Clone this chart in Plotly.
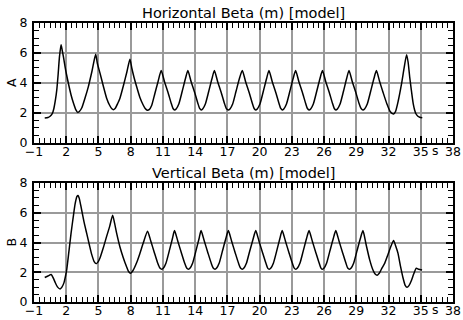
import plotly.graph_objects as go
from plotly.subplots import make_subplots

# Horizontal beta (m) vs s
s_h = [0.0, 0.3, 0.5, 0.7, 0.85, 1.0, 1.12, 1.25, 1.37, 1.52, 1.62, 1.74, 1.95, 2.2, 2.45, 2.67, 2.9, 3.07,
       3.22, 3.44, 3.75, 4.06, 4.4, 4.74, 4.9, 5.15, 5.45, 5.76, 6.05, 6.25, 6.38,
       6.55, 6.8, 7.0, 7.35, 7.65, 7.93, 8.1, 8.3, 8.55, 8.85, 9.15, 9.35, 9.55,
       9.72, 9.95, 10.25, 10.55, 10.84,
       11.14, 11.46, 11.77, 11.94, 12.08, 12.23, 12.48, 12.79, 13.1, 13.32,
       13.62, 13.94, 14.25, 14.42, 14.55, 14.7, 14.95, 15.26, 15.57, 15.79,
       16.09, 16.41, 16.72, 16.9, 17.09, 17.24, 17.49, 17.8, 18.12, 18.39,
       18.69, 19.01, 19.32, 19.49, 19.63, 19.78, 20.03, 20.34, 20.65, 20.87,
       21.17, 21.49, 21.8, 21.97, 22.1, 22.25, 22.5, 22.81, 23.12, 23.35,
       23.65, 23.97, 24.28, 24.45, 24.6, 24.75, 25.0, 25.31, 25.62, 25.85,
       26.15, 26.47, 26.78, 26.95, 27.09, 27.24, 27.49, 27.8, 28.1, 28.32,
       28.62, 28.94, 29.25, 29.45, 29.62, 29.77, 30.02, 30.33, 30.64, 30.87,
       31.17, 31.5, 31.85, 32.15, 32.47, 32.65, 32.9, 33.2, 33.45, 33.68,
       33.82, 33.97, 34.12, 34.3, 34.42, 34.55, 34.73, 34.9, 35.14]
beta_h = [1.67, 1.7, 1.78, 1.95, 2.3, 2.9, 3.54, 4.6, 5.74, 6.55, 6.2, 5.74, 4.85, 3.98, 3.2, 2.66, 2.2, 2.04,
          2.1, 2.33, 3.0, 3.76, 4.8, 5.91, 5.3, 4.64, 3.8, 2.99, 2.5, 2.28, 2.22,
          2.3, 2.65, 2.99, 3.9, 4.75, 5.58, 5.0, 4.4, 3.76, 3.05, 2.55, 2.3, 2.18,
          2.22, 2.5, 3.3, 4.1, 4.83,
          4.1, 3.4, 2.65, 2.3, 2.2, 2.27, 2.6, 3.43, 4.3, 4.83,
          4.1, 3.4, 2.65, 2.3, 2.2, 2.27, 2.6, 3.43, 4.3, 4.83,
          4.1, 3.4, 2.65, 2.3, 2.2, 2.27, 2.6, 3.43, 4.3, 4.83,
          4.1, 3.4, 2.65, 2.3, 2.2, 2.27, 2.6, 3.43, 4.3, 4.83,
          4.1, 3.4, 2.65, 2.3, 2.2, 2.27, 2.6, 3.43, 4.3, 4.83,
          4.1, 3.4, 2.65, 2.3, 2.2, 2.27, 2.6, 3.43, 4.3, 4.83,
          4.1, 3.4, 2.65, 2.3, 2.2, 2.27, 2.6, 3.43, 4.3, 4.83,
          4.1, 3.4, 2.65, 2.3, 2.2, 2.27, 2.6, 3.43, 4.3, 4.83,
          4.1, 3.35, 2.6, 2.1, 1.93, 2.1, 2.8, 3.9, 5.0, 5.89,
          5.4, 4.4, 3.54, 2.6, 2.22, 1.95, 1.78, 1.72, 1.68]

# Vertical beta (m) vs s
s_v = [0.0, 0.3, 0.6, 0.8, 0.97, 1.2, 1.43, 1.6, 1.8, 1.95, 2.05, 2.25, 2.45, 2.65, 2.83, 3.0, 3.1,
       3.2, 3.38, 3.65, 3.9, 4.15, 4.37, 4.6, 4.78, 4.95, 5.15, 5.45, 5.76, 6.05, 6.32,
       6.5, 6.69, 7.0, 7.31, 7.6, 7.8, 7.99, 8.2, 8.55, 8.85, 9.17, 9.57,
       9.87, 10.19, 10.52, 10.72, 10.9, 11.05, 11.28, 11.58, 11.88, 12.08,
       12.38, 12.7, 13.03, 13.21, 13.38, 13.53, 13.76, 14.06, 14.36, 14.55,
       14.85, 15.17, 15.5, 15.68, 15.85, 16.0, 16.23, 16.53, 16.85, 17.09,
       17.39, 17.71, 18.04, 18.22, 18.39, 18.54, 18.77, 19.07, 19.4, 19.64,
       19.94, 20.26, 20.59, 20.75, 20.9, 21.05, 21.28, 21.58, 21.88, 22.1,
       22.4, 22.72, 23.05, 23.22, 23.37, 23.52, 23.75, 24.05, 24.36, 24.6,
       24.9, 25.22, 25.55, 25.71, 25.85, 26.0, 26.23, 26.53, 26.85, 27.09,
       27.39, 27.71, 28.04, 28.2, 28.37, 28.52, 28.75, 29.05, 29.37, 29.62,
       29.9, 30.24, 30.55, 30.75, 30.94, 31.15, 31.4, 31.64, 31.95, 32.25, 32.47,
       32.65, 32.87, 33.1, 33.34, 33.55, 33.72, 33.9, 34.12, 34.35, 34.58, 34.8, 35.12]
beta_v = [1.65, 1.75, 1.85, 1.6, 1.32, 1.0, 0.88, 1.0, 1.32, 1.8, 2.2, 3.4, 4.63, 5.7, 6.61, 7.1, 7.16,
          7.0, 6.39, 5.4, 4.63, 3.85, 3.2, 2.72, 2.58, 2.68, 2.98, 3.65, 4.41, 5.1, 5.84,
          5.3, 4.63, 3.7, 2.98, 2.4, 2.05, 1.94, 2.1, 2.64, 3.25, 3.97, 4.76,
          4.1, 3.35, 2.6, 2.28, 2.2, 2.28, 2.6, 3.4, 4.25, 4.8,
          4.1, 3.35, 2.6, 2.28, 2.2, 2.28, 2.6, 3.4, 4.25, 4.8,
          4.1, 3.35, 2.6, 2.28, 2.2, 2.28, 2.6, 3.4, 4.25, 4.8,
          4.1, 3.35, 2.6, 2.28, 2.2, 2.28, 2.6, 3.4, 4.25, 4.8,
          4.1, 3.35, 2.6, 2.28, 2.2, 2.28, 2.6, 3.4, 4.25, 4.8,
          4.1, 3.35, 2.6, 2.28, 2.2, 2.28, 2.6, 3.4, 4.25, 4.8,
          4.1, 3.35, 2.6, 2.28, 2.2, 2.28, 2.6, 3.4, 4.25, 4.8,
          4.1, 3.35, 2.6, 2.28, 2.2, 2.28, 2.6, 3.4, 4.25, 4.8,
          3.9, 2.85, 2.15, 1.88, 1.8, 1.95, 2.3, 2.6, 3.2, 3.8, 4.14,
          3.8, 3.3, 2.45, 1.65, 1.12, 0.99, 1.1, 1.43, 1.9, 2.27, 2.2, 2.15]

titles = ["Horizontal Beta (m) [model]", "Vertical Beta (m) [model]"]
ylabels = ["A", "B"]
x_range = [-1, 38]
y_range = [0, 8]

FONT = "DejaVu Sans"
TICKFONT = dict(family=FONT, size=12.5, color="black")
TITLEFONT = dict(family=FONT, size=14.5, color="black")

fig = make_subplots(rows=2, cols=1, vertical_spacing=0.146)
fig.add_trace(go.Scatter(x=s_h, y=beta_h, mode="lines",
                         line=dict(color="black", width=1.5, shape="spline", smoothing=0.6)), row=1, col=1)
fig.add_trace(go.Scatter(x=s_v, y=beta_v, mode="lines",
                         line=dict(color="black", width=1.5, shape="spline", smoothing=0.6)), row=2, col=1)

minor = dict(dtick=0.5, ticklen=5, tickwidth=1.2, tickcolor="black", ticks="inside", showgrid=False)
axis_common = dict(
    showline=True, linecolor="black", linewidth=2, mirror="allticks",
    ticks="inside", ticklen=7, tickwidth=1.5, tickcolor="black",
    showgrid=True, gridcolor="#9a9a9a", gridwidth=2,
    zeroline=False, tickfont=TICKFONT, automargin=False,
)
for r in (1, 2):
    fig.update_xaxes(range=x_range, tick0=-1, dtick=3, minor=minor, ticklabelstandoff=-4,
                     **axis_common, row=r, col=1)
    fig.update_yaxes(range=y_range, tick0=0, dtick=2, minor=minor, ticklabelstandoff=2,
                     **axis_common, row=r, col=1)

fig.update_layout(
    width=463, height=320,
    margin=dict(l=34, r=10, t=23, b=18, autoexpand=False),
    showlegend=False,
    plot_bgcolor="white", paper_bgcolor="white",
    font=dict(family=FONT, size=12.5, color="black"),
)
fig.update_yaxes(domain=[0.570, 1.0], row=1, col=1)
fig.update_yaxes(domain=[0.0, 0.4265], row=2, col=1)

for i, (t, yl) in enumerate(zip(titles, ylabels)):
    yref = "y domain" if i == 0 else "y2 domain"
    xref = "x domain" if i == 0 else "x2 domain"
    fig.add_annotation(text=t, xref=xref, yref=yref, x=0.5, y=1, xanchor="center", yanchor="bottom",
                       yshift=0, showarrow=False, font=TITLEFONT)
    fig.add_annotation(text=yl, xref=xref, yref=yref, x=0, y=0.5, xanchor="center", yanchor="middle",
                       xshift=-22, textangle=-90, showarrow=False, font=TICKFONT)
    fig.add_annotation(text="s", xref="x" if i == 0 else "x2", yref=yref, x=36.4, y=0, xanchor="center",
                       yanchor="top", yshift=2, showarrow=False, font=TICKFONT)

fig.write_html("out.html")
